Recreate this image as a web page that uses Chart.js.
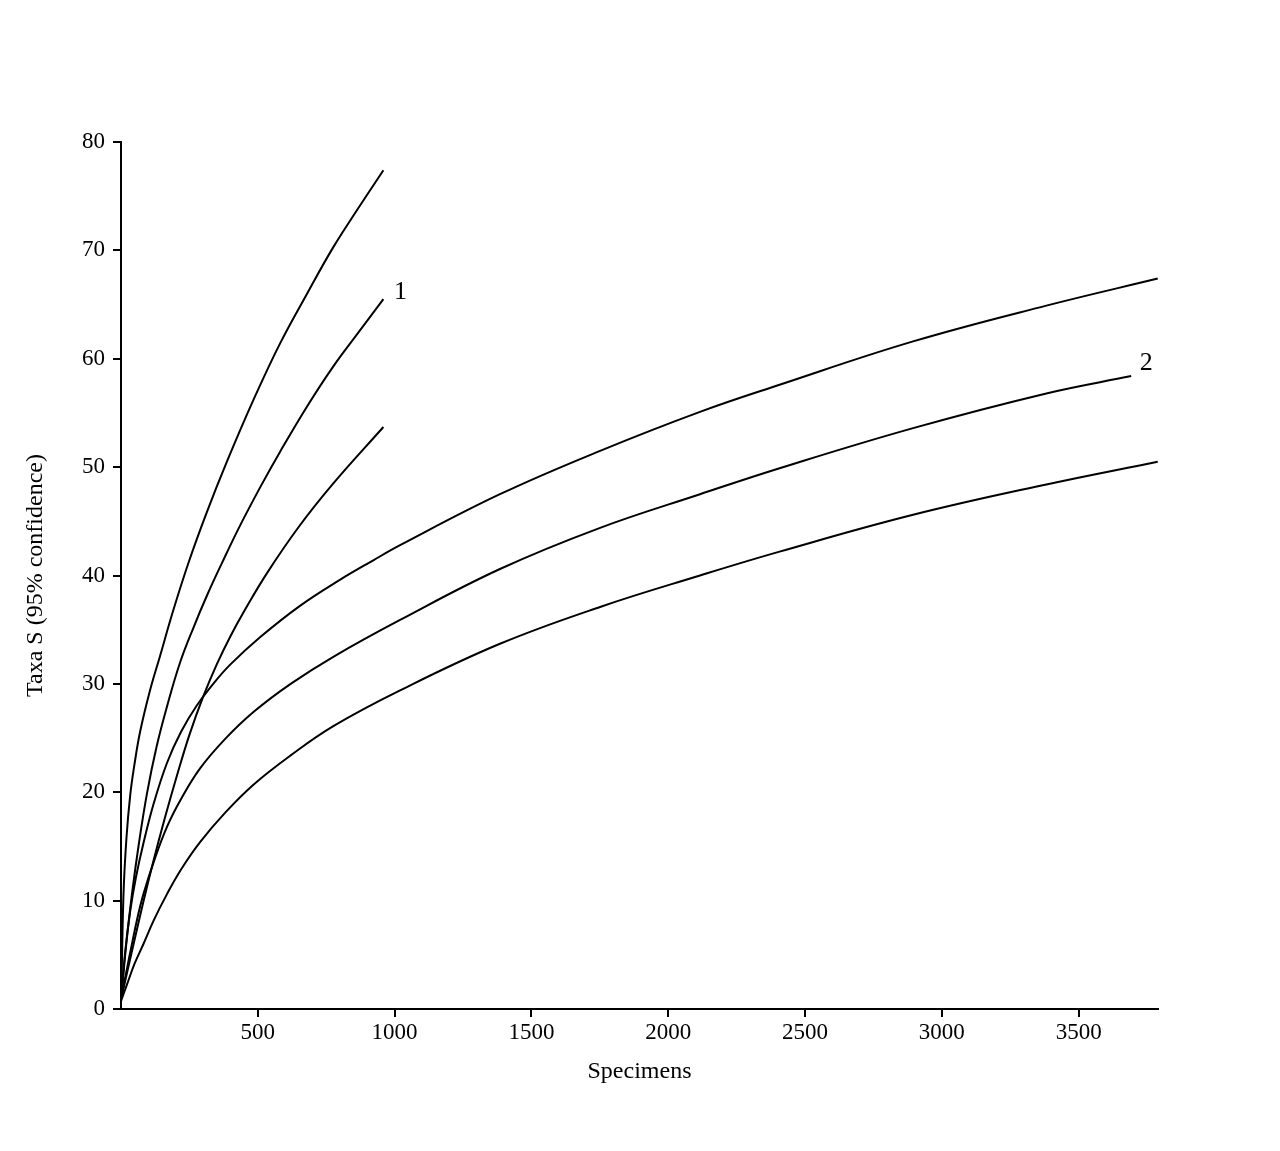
<!DOCTYPE html>
<html>
<head>
<meta charset="utf-8">
<script src="https://cdn.jsdelivr.net/npm/chart.js@4.4.1/dist/chart.umd.min.js"></script>
<style>
	html, body { margin: 0; padding: 0; background: #fff; }
	canvas { display: block; }
</style>
</head>
<body>
<canvas id="chart-rarefaction" width="1280" height="1151"></canvas>
<script>
// Rarefaction curves, 95% confidence bands
// ================================================================================
// sample 1 (about 960 specimens)
let s1_upper_x = [1, 9, 20, 34, 50, 70, 105, 143, 190, 247, 310, 387, 484, 581, 680, 776, 870, 959];
let s1_upper_y = [1, 10.5, 15.8, 19.8, 22.7, 25.6, 29.3, 32.6, 36.7, 41.2, 45.6, 50.5, 56.2, 61.4, 66.0, 70.3, 74.0, 77.4];

let s1_mid_x = [1, 20, 40, 65, 95, 130, 168, 215, 265, 315, 368, 435, 510, 581, 680, 776, 870, 959];
let s1_mid_y = [1, 6.2, 10.6, 15.2, 19.9, 24.2, 27.9, 31.9, 35.2, 38.2, 41.1, 44.6, 48.2, 51.4, 55.6, 59.3, 62.5, 65.5];

let s1_lower_x = [1, 46, 80, 119, 160, 204, 250, 300, 350, 400, 450, 533, 650, 776, 959];
let s1_lower_y = [1, 6.0, 9.7, 13.7, 17.6, 21.5, 25.3, 28.8, 31.8, 34.4, 36.7, 40.2, 44.5, 48.5, 53.7];

// sample 2 (about 3790 specimens)
let s2_upper_x = [1, 15, 34, 55, 82, 120, 168, 220, 277, 340, 400, 508, 654, 800, 922, 1020, 1385, 1751, 2116, 2407, 2895, 3382, 3789];
let s2_upper_y = [1, 5.2, 9.1, 12.2, 15.3, 19.0, 22.7, 25.6, 28.0, 30.1, 31.8, 34.3, 37.2, 39.6, 41.4, 42.8, 47.5, 51.5, 55.1, 57.6, 61.6, 64.9, 67.4];

let s2_mid_x = [1, 20, 40, 60, 82, 120, 168, 220, 289, 380, 484, 620, 776, 1020, 1385, 1751, 2116, 2407, 2895, 3382, 3692];
let s2_mid_y = [1, 3.5, 6.0, 8.4, 10.6, 13.6, 16.8, 19.4, 22.2, 24.9, 27.4, 30.0, 32.5, 35.9, 40.6, 44.4, 47.5, 49.9, 53.6, 56.8, 58.4];

let s2_lower_x = [1, 21, 50, 82, 120, 168, 220, 289, 380, 484, 620, 776, 1020, 1385, 1751, 2116, 2407, 2895, 3382, 3789];
let s2_lower_y = [0.8, 2.2, 4.2, 6.0, 8.2, 10.6, 12.9, 15.4, 18.1, 20.7, 23.4, 26.1, 29.4, 33.7, 37.1, 40.0, 42.2, 45.6, 48.4, 50.5];

let x_ticks = [500, 1000, 1500, 2000, 2500, 3000, 3500];
let y_ticks = [0, 10, 20, 30, 40, 50, 60, 70, 80];

let curve_labels = [
	{text: "1", x: s1_mid_x, y: s1_mid_y, dx: 17, dy: -7},
	{text: "2", x: s2_mid_x, y: s2_mid_y, dx: 15, dy: -13}
];

let to_points = (xs, ys) => xs.map((x, i) => ({x: x, y: ys[i]}));

let make_curve = (xs, ys) => ({
	data: to_points(xs, ys),
	showLine: true,
	borderColor: "#000",
	borderWidth: 2,
	pointRadius: 0,
	tension: 0.4,
	fill: false
});

let serif = "'Liberation Serif', 'Times New Roman', serif";

// Charts
// ================================================================================

let label_plugin = {
	id: "curve_labels",
	afterDatasetsDraw(chart) {
		let ctx = chart.ctx;
		let sx = chart.scales.x, sy = chart.scales.y;
		ctx.save();
		ctx.fillStyle = "#000";
		ctx.font = "26px " + serif;
		ctx.textAlign = "center";
		ctx.textBaseline = "middle";
		curve_labels.forEach(l => {
			let n = l.x.length - 1;
			ctx.fillText(l.text, sx.getPixelForValue(l.x[n]) + l.dx, sy.getPixelForValue(l.y[n]) + l.dy);
		});
		ctx.restore();
	}
};

let axis_common = {
	border: {display: true, color: "#000", width: 2},
	grid: {drawOnChartArea: false, drawTicks: true, tickLength: 8, color: "#000", lineWidth: 2}
};

let rarefaction_chart = new Chart(document.getElementById("chart-rarefaction"), {
	type: "scatter",
	data: {
		datasets: [
			make_curve(s1_upper_x, s1_upper_y),
			make_curve(s1_mid_x, s1_mid_y),
			make_curve(s1_lower_x, s1_lower_y),
			make_curve(s2_upper_x, s2_upper_y),
			make_curve(s2_mid_x, s2_mid_y),
			make_curve(s2_lower_x, s2_lower_y)
		]
	},
	options: {
		responsive: false,
		animation: false,
		devicePixelRatio: 1,
		layout: {padding: {left: 0, right: 122, top: 142, bottom: 0}},
		plugins: {legend: {display: false}, tooltip: {enabled: false}},
		scales: {
			x: Object.assign({}, axis_common, {
				type: "linear",
				min: 0,
				max: 3790,
				ticks: {color: "#000", font: {family: serif, size: 23}, padding: 2, maxRotation: 0, callback: v => String(v)},
				afterBuildTicks: axis => { axis.ticks = x_ticks.map(v => ({value: v})); },
				afterFit: axis => { axis.height = 142; },
				title: {display: true, text: "Specimens", color: "#000", font: {family: serif, size: 24}, padding: {top: 0, bottom: 65}}
			}),
			y: Object.assign({}, axis_common, {
				type: "linear",
				min: 0,
				max: 80,
				ticks: {color: "#000", font: {family: serif, size: 23}, padding: 8, callback: v => String(v)},
				afterBuildTicks: axis => { axis.ticks = y_ticks.map(v => ({value: v})); },
				afterFit: axis => { axis.width = 121; },
				title: {display: true, text: "Taxa S (95% confidence)", color: "#000", font: {family: serif, size: 24}, padding: {top: 21, bottom: 0}}
			})
		}
	},
	plugins: [label_plugin]
});
</script>
</body>
</html>
